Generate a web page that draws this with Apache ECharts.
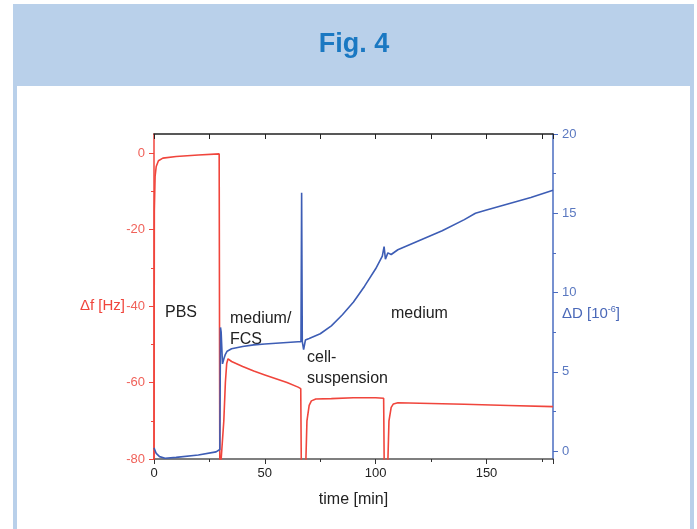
<!DOCTYPE html>
<html>
<head>
<meta charset="utf-8">
<script src="https://cdn.jsdelivr.net/npm/echarts@6/dist/echarts.min.js"></script>
<style>
html,body{margin:0;padding:0;background:#fff;}
#chart{width:697px;height:529px;}
</style>
</head>
<body>
<div id="chart"></div>
<script>
// Δf [Hz] (left axis, red)
const freqTime = [0, 0.15, 0.5, 1, 2, 4, 10, 20, 29.4, 29.7, 30.6, 31.5, 32.2, 32.8, 33.4, 35, 40, 45, 50, 55, 60, 65, 66.2, 66.5, 68.3, 69, 70, 71, 73, 80, 90, 100, 103.6, 103.9, 105.3, 106, 107, 108, 110, 120, 140, 160, 180];
const freqValues = [-85, -15, -6, -3.5, -2, -1.3, -0.9, -0.5, -0.2, -85, -85, -70, -60, -55, -53.8, -54.5, -55.8, -57.0, -58.0, -59.0, -60.0, -61.2, -61.6, -85, -85, -70, -66, -64.8, -64.3, -64.2, -64.0, -64.0, -64.1, -85, -85, -70, -66.5, -65.6, -65.3, -65.4, -65.7, -66.0, -66.3];
// ΔD [10^-6] (right axis, blue)
const dissTime = [0, 1, 2.5, 5, 10, 20, 28, 29.7, 30.0, 30.3, 30.9, 31.5, 32.2, 33, 35, 40, 45, 50, 55, 60, 65, 66.3, 66.6, 66.9, 67.5, 68.3, 70, 75, 80, 85, 90, 95, 100, 103, 103.8, 104.4, 105.5, 107, 110, 115, 120, 130, 140, 145, 150, 160, 170, 180];
const dissValues = [0.2, -0.15, -0.35, -0.45, -0.4, -0.25, -0.05, 0.1, 7.8, 7.5, 5.5, 5.8, 6.1, 6.3, 6.45, 6.6, 6.7, 6.75, 6.8, 6.85, 6.9, 6.9, 16.3, 6.9, 6.4, 7.0, 7.1, 7.4, 7.9, 8.6, 9.4, 10.4, 11.5, 12.3, 12.9, 12.1, 12.5, 12.4, 12.7, 13.0, 13.3, 13.9, 14.6, 15.0, 15.2, 15.6, 16.0, 16.45];
const xTicks = [0, 50, 100, 150];
const leftTicks = [-80, -60, -40, -20, 0];
const rightTicks = [0, 5, 10, 15, 20];
const phaseLabels = ['PBS', 'medium/\nFCS', 'cell-\nsuspension', 'medium'];

const zip = (a, b) => a.map((t, i) => [t, b[i]]);
const FONT = '"Liberation Sans", Arial, Helvetica, sans-serif';
const RED = '#f0453c';
const BLUE = '#3d5db5';

const chart = echarts.init(document.getElementById('chart'), null, {renderer: 'canvas'});
chart.setOption({
  backgroundColor: '#ffffff',
  animation: false,
  textStyle: {fontFamily: FONT},
  grid: {left: 154, right: 144, top: 134, bottom: 70},
  graphic: [
    {type: 'rect', z: -10, silent: true, shape: {x: 13, y: 4, width: 681, height: 82}, style: {fill: '#b9d0ea'}},
    {type: 'rect', z: -10, silent: true, shape: {x: 13, y: 86, width: 4, height: 443}, style: {fill: '#b9d0ea'}},
    {type: 'rect', z: -10, silent: true, shape: {x: 690, y: 86, width: 4, height: 443}, style: {fill: '#b9d0ea'}},
    {type: 'text', x: 354, y: 45, style: {text: 'Fig. 4', fill: '#1a78c2', font: 'bold 27px ' + FONT, align: 'center', verticalAlign: 'middle'}},
    {type: 'text', x: 125, y: 306, style: {text: 'Δf [Hz]', fill: RED, font: '15px ' + FONT, align: 'right', verticalAlign: 'middle'}},
    {type: 'text', x: 562, y: 314, style: {text: 'ΔD [10{sup|-6}]', fill: '#4a68b8', font: '15px ' + FONT, align: 'left', verticalAlign: 'middle',
      rich: {sup: {fontSize: 9, verticalAlign: 'top', padding: [0, 0, 8, 0], fill: '#4a68b8', fontFamily: FONT}}}},
    {type: 'text', x: 165, y: 313, style: {text: phaseLabels[0], fill: '#222', font: '16px ' + FONT, verticalAlign: 'middle'}},
    {type: 'text', x: 230, y: 308, style: {text: phaseLabels[1], fill: '#222', font: '16px ' + FONT, verticalAlign: 'top', lineHeight: 21}},
    {type: 'text', x: 307, y: 347, style: {text: phaseLabels[2], fill: '#222', font: '16px ' + FONT, verticalAlign: 'top', lineHeight: 21}},
    {type: 'text', x: 391, y: 314, style: {text: phaseLabels[3], fill: '#222', font: '16px ' + FONT, verticalAlign: 'middle'}}
  ],
  xAxis: [
    {
      type: 'value', position: 'bottom', min: 0, max: 180, interval: 50,
      name: 'time [min]', nameLocation: 'middle', nameGap: 33,
      nameTextStyle: {fontSize: 16, color: '#222', fontFamily: FONT},
      axisLine: {show: true, onZero: false, lineStyle: {color: '#555', width: 1.5}},
      axisTick: {show: true, inside: false, length: 5, lineStyle: {color: '#333'}},
      minorTick: {show: true, splitNumber: 2, length: 3, lineStyle: {color: '#333'}},
      axisLabel: {fontSize: 13, color: '#222', margin: 8, fontFamily: FONT,
        formatter: v => xTicks.includes(v) ? String(v) : ''},
      splitLine: {show: false}
    },
    {
      type: 'value', position: 'top', min: 0, max: 180, interval: 25,
      axisLine: {show: true, onZero: false, lineStyle: {color: '#222', width: 1.5}},
      axisTick: {show: true, inside: true, length: 5, lineStyle: {color: '#222'}},
      axisLabel: {show: false},
      splitLine: {show: false}
    }
  ],
  yAxis: [
    {
      type: 'value', position: 'left', min: -80, max: 5, interval: 20,
      axisLine: {show: true, onZero: false, lineStyle: {color: RED, width: 1.5}},
      axisTick: {show: true, inside: false, length: 5, lineStyle: {color: RED}, customValues: leftTicks},
      minorTick: {show: true, splitNumber: 2, length: 3, lineStyle: {color: RED}},
      axisLabel: {fontSize: 13, color: '#f0625a', margin: 9, fontFamily: FONT, customValues: leftTicks,
        formatter: v => leftTicks.includes(v) ? String(v) : ''},
      splitLine: {show: false}
    },
    {
      type: 'value', position: 'right', min: -0.5, max: 20, splitNumber: 4,
      axisLine: {show: true, onZero: false, lineStyle: {color: '#4a6cc0', width: 1.5}},
      axisTick: {show: true, inside: false, length: 5, lineStyle: {color: '#4a6cc0'}, customValues: rightTicks},
      minorTick: {show: true, splitNumber: 2, length: 3, lineStyle: {color: '#4a6cc0'}},
      axisLabel: {fontSize: 13, color: '#5a78c0', margin: 9, fontFamily: FONT, customValues: rightTicks,
        formatter: v => rightTicks.includes(v) ? String(v) : ''},
      splitLine: {show: false}
    }
  ],
  series: [
    {type: 'line', name: 'Δf', xAxisIndex: 0, yAxisIndex: 0, data: zip(freqTime, freqValues),
      showSymbol: false, clip: true, lineStyle: {color: RED, width: 1.6}, itemStyle: {color: RED}, z: 3},
    {type: 'line', name: 'ΔD', xAxisIndex: 0, yAxisIndex: 1, data: zip(dissTime, dissValues),
      showSymbol: false, clip: true, lineStyle: {color: BLUE, width: 1.6}, itemStyle: {color: BLUE}, z: 4}
  ]
});
</script>
</body>
</html>
